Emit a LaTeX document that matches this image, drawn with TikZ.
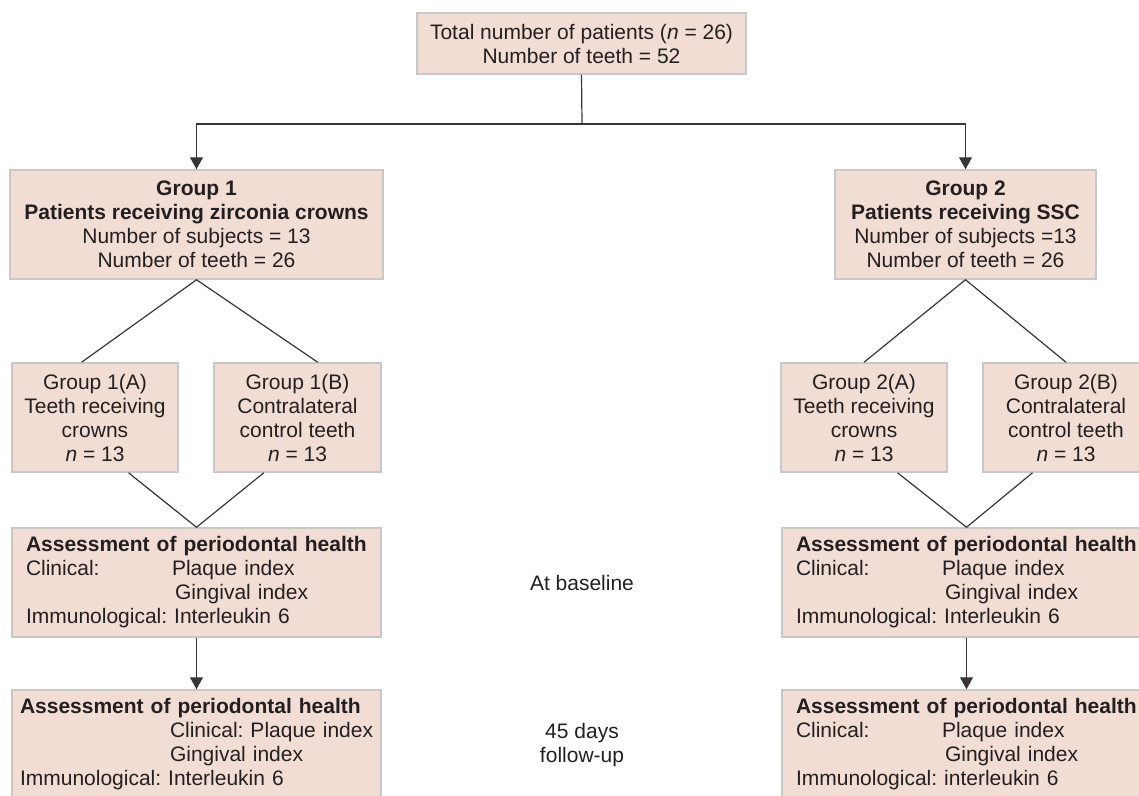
\documentclass[tikz,border=0pt]{standalone}
\usepackage{fontspec}
\setmainfont{Liberation Sans}
\usetikzlibrary{arrows.meta,calc}

\definecolor{boxfill}{RGB}{242,221,213}
\definecolor{boxline}{RGB}{200,200,200}
\definecolor{ink}{RGB}{35,31,32}

\tikzset{
    box/.style={draw=boxline, line width=1.5pt, fill=boxfill, text=ink,
        inner sep=4pt, align=center, minimum height=109pt},
    listbox/.style={box, align=left, inner xsep=14pt, text width=341pt},
    link/.style={draw=ink!90, line width=1.2pt}
}

\begin{document}
\begin{tikzpicture}[x=1pt, y=-1pt, font=\fontsize{21}{24}\selectfont\frenchspacing,
    >={Triangle[width=13pt,length=12pt]}]
    \useasboundingbox (0,0) rectangle (1139,795);
    \clip (0,0) rectangle (1139,795);

    % top
    \node [box, minimum width=329pt, minimum height=61pt] (total) at (581.5,43.5)
        {Total number of patients (\textit{n} = 26)\\Number of teeth = 52};

    % the two groups
    \node [box, minimum width=373pt] (g1) at (196.5,224.5)
        {\textbf{Group 1}\\\textbf{Patients receiving zirconia crowns}\\Number of subjects = 13\\Number of teeth = 26};
    \node [box, minimum width=261pt] (g2) at (965.5,224.5)
        {\textbf{Group 2}\\\textbf{Patients receiving SSC}\\Number of subjects =13\\Number of teeth = 26};

    % sub-groups
    \node [box, minimum width=166pt] (g1a) at (95,417.5)
        {Group 1(A)\\Teeth receiving\\crowns\\\textit{n} = 13};
    \node [box, minimum width=167pt] (g1b) at (297.5,417.5)
        {Group 1(B)\\Contralateral\\control teeth\\\textit{n} = 13};
    \node [box, minimum width=166pt] (g2a) at (864,417.5)
        {Group 2(A)\\Teeth receiving\\crowns\\\textit{n} = 13};
    \node [box, minimum width=166pt] (g2b) at (1066,417.5)
        {Group 2(B)\\Contralateral\\control teeth\\\textit{n} = 13};

    % assessments
    \node [listbox] (base1) at (196.5,582.5)
        {\textbf{Assessment of periodontal health}\\
         \makebox[146pt][l]{Clinical:}Plaque index\\
         \hspace*{149pt}Gingival index\\
         Immunological: Interleukin 6};
    \node [listbox] (base2) at (966.5,582.5)
        {\textbf{Assessment of periodontal health}\\
         \makebox[146pt][l]{Clinical:}Plaque index\\
         \hspace*{149pt}Gingival index\\
         Immunological: Interleukin 6};
    \node [listbox, inner xsep=8pt, text width=353pt] (follow1) at (196.5,744.5)
        {\textbf{Assessment of periodontal health}\\
         \mbox{\hspace*{150pt}Clinical: Plaque index}\\
         \hspace*{150pt}Gingival index\\
         Immunological: Interleukin 6};
    \node [listbox] (follow2) at (966.5,744.5)
        {\textbf{Assessment of periodontal health}\\
         \makebox[146pt][l]{Clinical:}Plaque index\\
         \hspace*{149pt}Gingival index\\
         Immunological: interleukin 6};

    \node [text=ink] (baseline) at (582,583) {At baseline};
    \node [text=ink, align=center] (later) at (582,745) {45 days\\follow-up};

    % connectors
    \coordinate (split) at (582,124);
    \draw [link] (total.south) -- (split);
    \draw [link, ->] (split) -| (g1.north);
    \draw [link, ->] (split) -| (g2.north);

    \draw [link] ($(g1a.north west)!0.42!(g1a.north east)$) -- (g1.south)
        -- ($(g1b.north west)!0.62!(g1b.north east)$);
    \draw [link] (g2a.north) -- (g2.south) -- (g2b.north);

    \draw [link] ($(g1a.south west)!0.7!(g1a.south east)$) -- (base1.north)
        -- ($(g1b.south west)!0.3!(g1b.south east)$);
    \draw [link] ($(g2a.south west)!0.7!(g2a.south east)$) -- (base2.north)
        -- ($(g2b.south west)!0.3!(g2b.south east)$);

    \draw [link, ->] (base1) -- (follow1);
    \draw [link, ->] (base2) -- (follow2);
\end{tikzpicture}
\end{document}
